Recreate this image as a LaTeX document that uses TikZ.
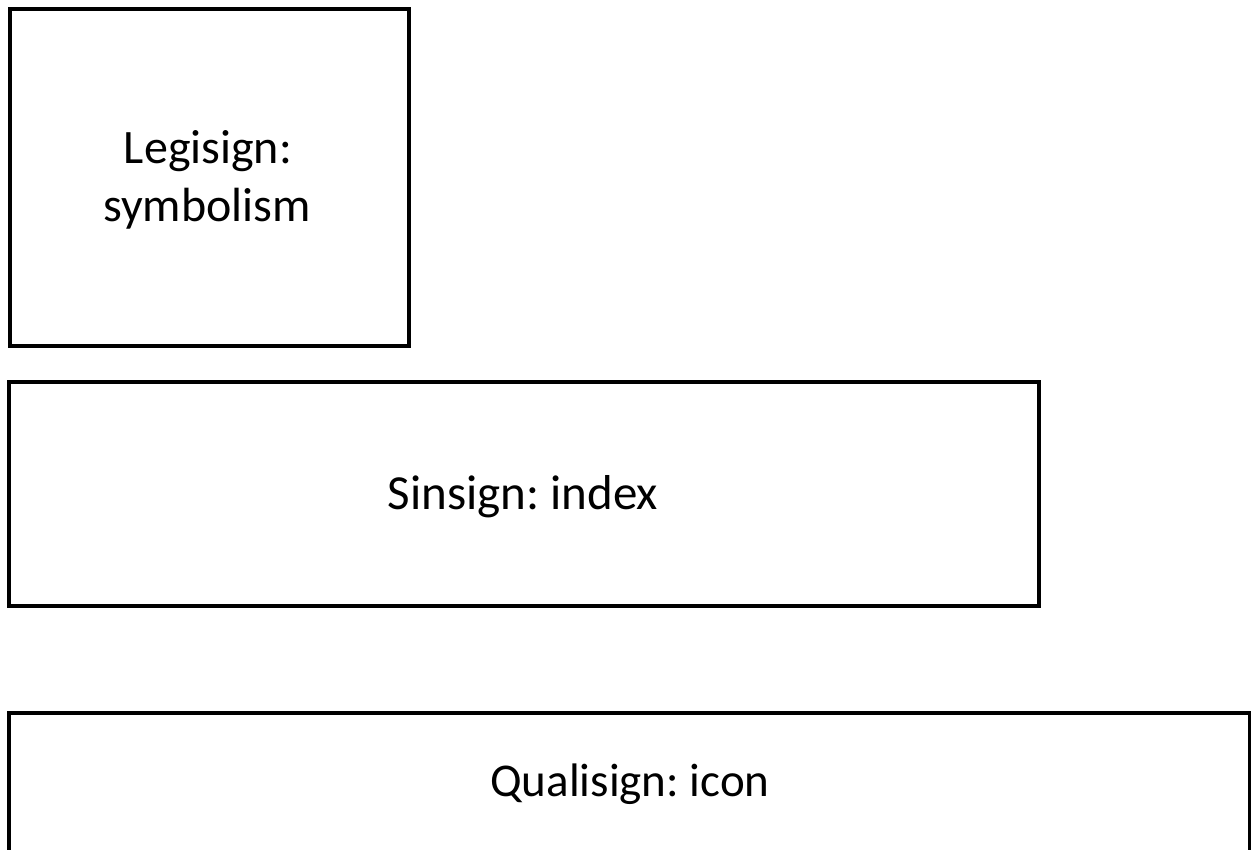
\documentclass[tikz,border=0pt]{standalone}
\usepackage{fontspec}
\setmainfont{Carlito}
\begin{document}
\frenchspacing
\begin{tikzpicture}[x=1pt,y=-1pt,
  signbox/.style={draw=black, line width=4pt, rectangle, inner sep=0pt},
  signtext/.style={inner sep=0pt, anchor=base, align=center,
    font=\fontsize{49}{48}\selectfont}]
\clip (0,0) rectangle (1251,850);
\fill[white] (0,0) rectangle (1251,850);
\node[signbox, minimum width=399pt, minimum height=337pt] (legi) at (209,178) {};
\node[signbox, minimum width=1030pt, minimum height=224pt] (sin) at (524,494) {};
\node[signbox, minimum width=1241pt, minimum height=230pt] (quali) at (629.5,828) {};
\node[signtext, font=\fontsize{48}{48}\selectfont] (legi1) at (208,164) {Legisign:};
\node[signtext, font=\fontsize{48}{48}\selectfont] (legi2) at (207,222) {symbolism};
\node[signtext] (sintext) at (523,509) {Sinsign: index};
\node[signtext, font=\fontsize{47}{48}\selectfont] (qualitext) at (630,796) {Qualisign: icon};
\end{tikzpicture}
\end{document}
